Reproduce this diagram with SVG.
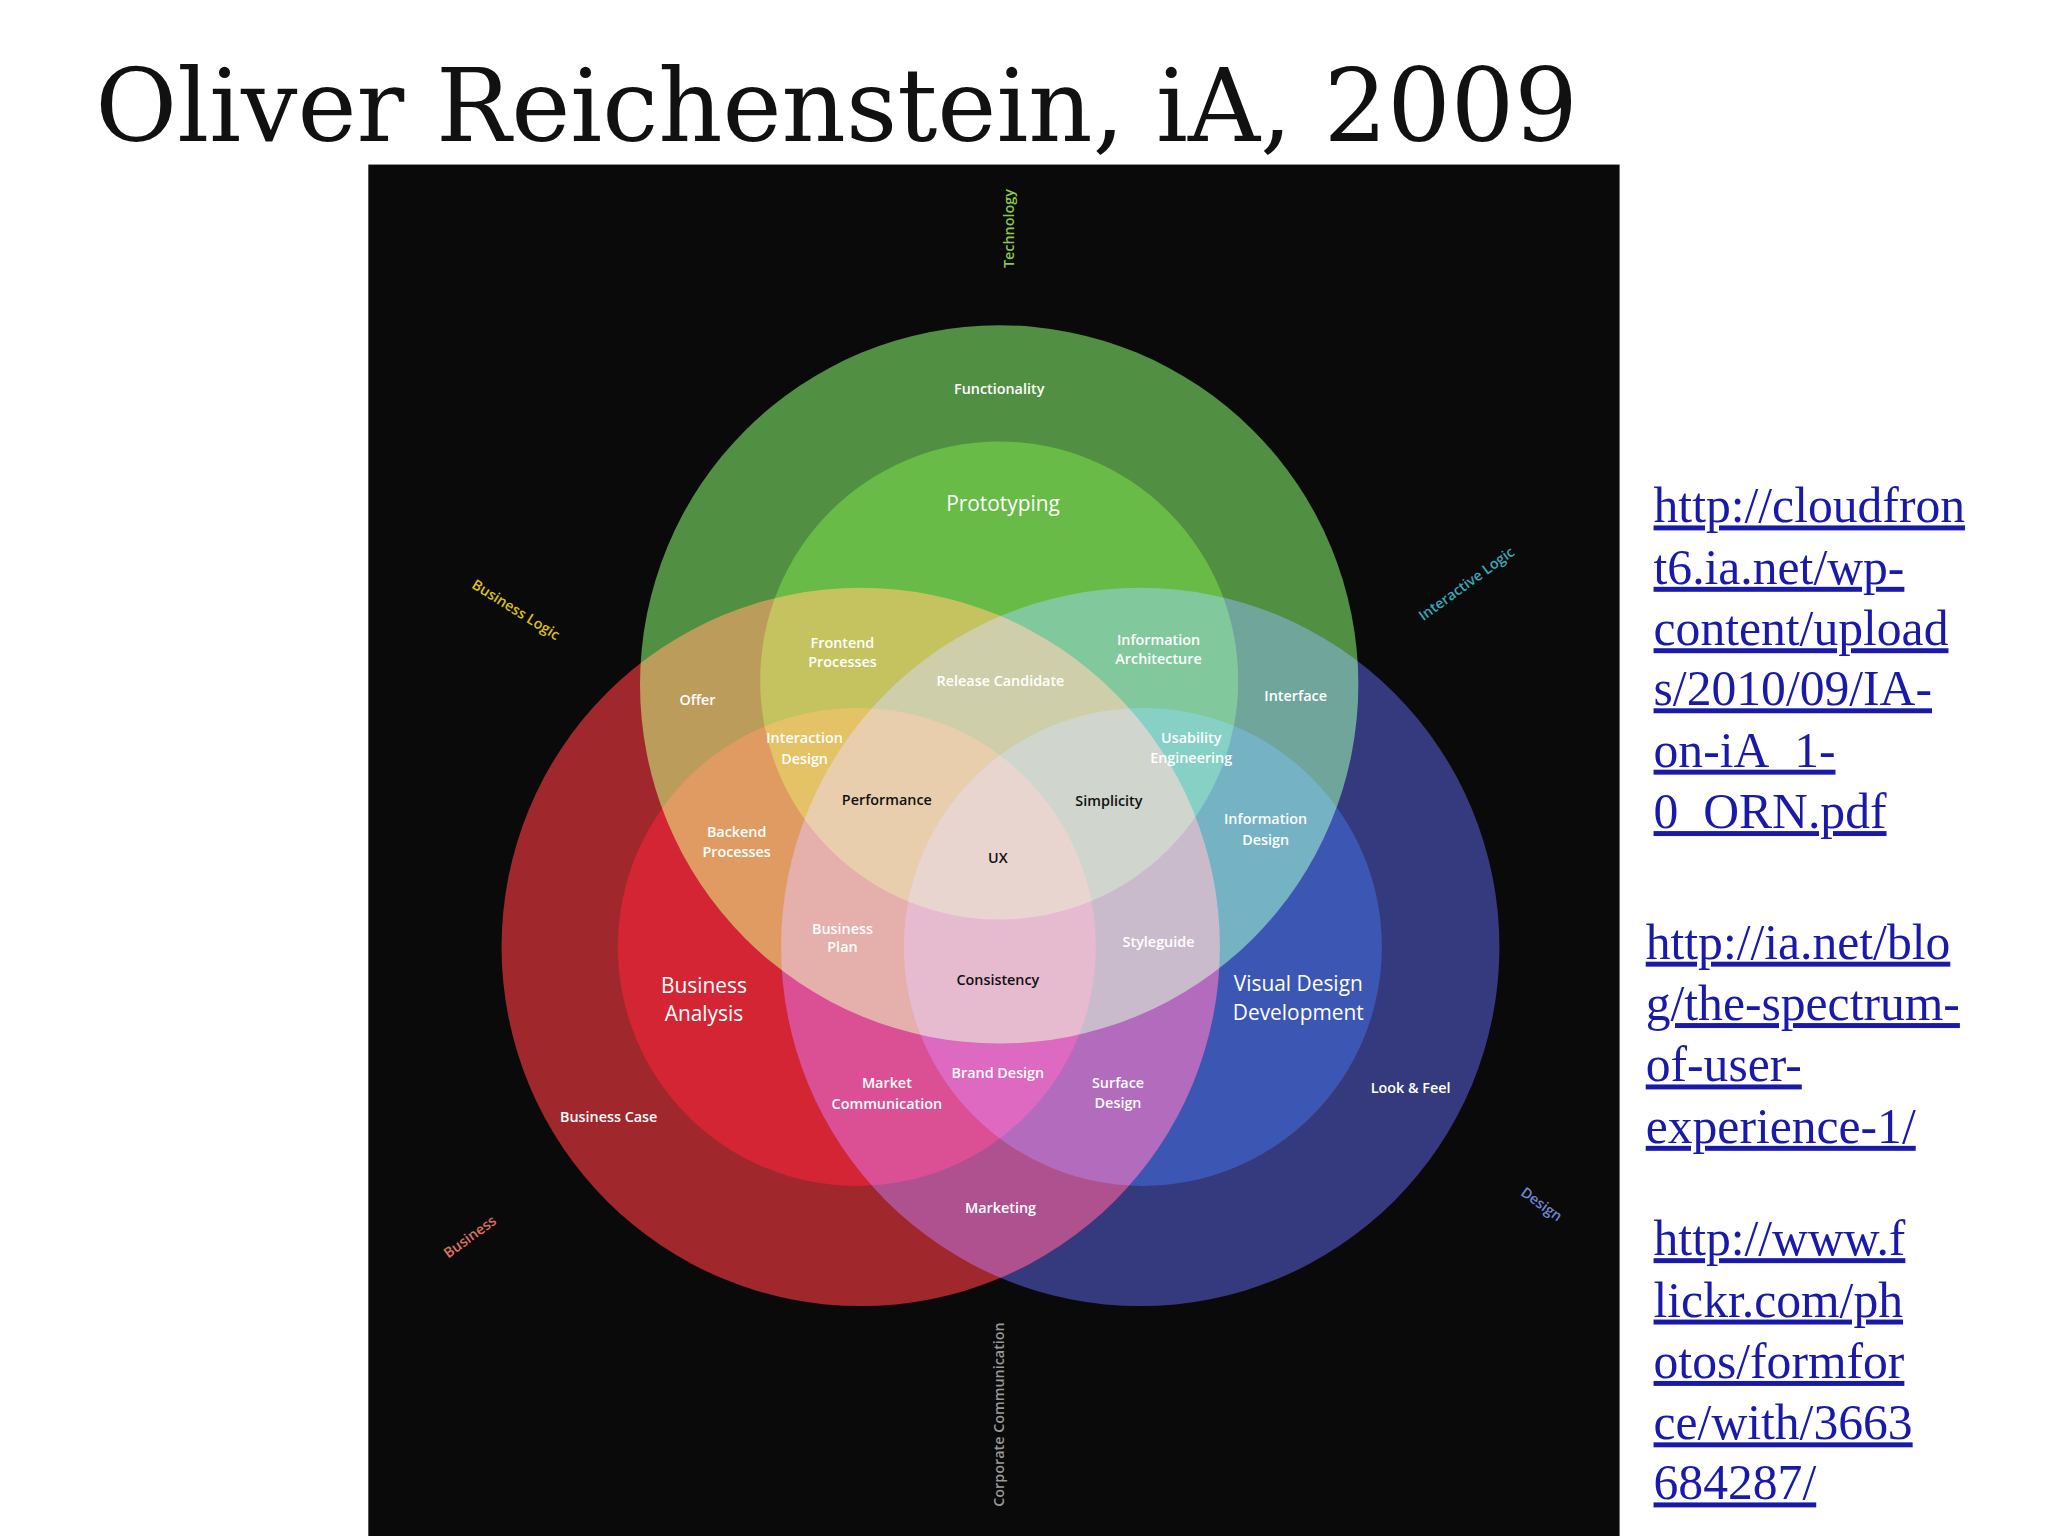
<svg xmlns="http://www.w3.org/2000/svg" width="2048" height="1536" viewBox="0 0 2048 1536">
<style>
.l{font-family:"Open Sans","Liberation Sans",sans-serif;font-size:11px;font-weight:600;fill:#fff;text-anchor:middle}
.d{fill:#111}
.b{font-size:16px;font-weight:400}
.lk{font-family:"Liberation Serif",serif;font-size:38px;fill:#1a1aaa;text-decoration:underline}
.ax{font-family:"Open Sans","Liberation Sans",sans-serif;font-size:11px;font-weight:600;text-anchor:middle}
.s{mix-blend-mode:screen}
</style>
<rect width="2048" height="1536" fill="#fff"/>
<g transform="scale(1.30612)">
<text x="73" y="108" font-family="DejaVu Serif,serif" font-size="78" textLength="1135" lengthAdjust="spacingAndGlyphs" fill="#111">Oliver Reichenstein, iA, 2009</text>
<g style="isolation:isolate">
<rect x="282" y="126" width="958" height="1050" fill="#0a0a0a"/>
<g id="technology" class="s"><circle cx="765" cy="524" r="275" fill="#4a8a3a"/><circle cx="765" cy="521" r="183" fill="#62b83e"/></g>
<g id="business" class="s"><circle cx="659" cy="725" r="275" fill="#9c1e22"/><circle cx="656" cy="725" r="183" fill="#d21c2c"/></g>
<g id="design" class="s"><circle cx="873" cy="725" r="275" fill="#2c3278"/><circle cx="875" cy="725" r="183" fill="#3350b0"/></g>
</g>
<g id="labels">
<text class="ax" fill="#8cc84a" transform="translate(776,175) rotate(-90)">Technology</text>
<text class="ax" fill="#d8c020" transform="translate(393,470) rotate(32)">Business Logic</text>
<text class="ax" fill="#3aa8b8" transform="translate(1125,450) rotate(-36)">Interactive Logic</text>
<text class="ax" fill="#e07060" transform="translate(362,950) rotate(-36)">Business</text>
<text class="ax" fill="#6f86d0" transform="translate(1178,925) rotate(36)">Design</text>
<text class="ax" fill="#999" transform="translate(769,1083) rotate(-90)">Corporate Communication</text>
<text class="l" x="765" y="302">Functionality</text>
<text class="l b" x="768" y="391">Prototyping</text>
<text class="l" x="645" y="496">Frontend</text><text class="l" x="645" y="511">Processes</text>
<text class="l" x="887" y="494">Information</text><text class="l" x="887" y="508">Architecture</text>
<text class="l" x="766" y="525">Release Candidate</text>
<text class="l" x="534" y="540">Offer</text>
<text class="l" x="992" y="537">Interface</text>
<text class="l" x="616" y="569">Interaction</text><text class="l" x="616" y="585">Design</text>
<text class="l" x="912" y="569">Usability</text><text class="l" x="912" y="584">Engineering</text>
<text class="l d" x="679" y="616">Performance</text>
<text class="l d" x="849" y="617">Simplicity</text>
<text class="l" x="564" y="641">Backend</text><text class="l" x="564" y="656">Processes</text>
<text class="l" x="969" y="631">Information</text><text class="l" x="969" y="647">Design</text>
<text class="l d" x="764" y="661">UX</text>
<text class="l" x="645" y="715">Business</text><text class="l" x="645" y="729">Plan</text>
<text class="l" x="887" y="725">Styleguide</text>
<text class="l b" x="539" y="760">Business</text><text class="l b" x="539" y="782">Analysis</text>
<text class="l d" x="764" y="754">Consistency</text>
<text class="l b" x="994" y="759">Visual Design</text><text class="l b" x="994" y="781">Development</text>
<text class="l" x="764" y="825">Brand Design</text>
<text class="l" x="679" y="833">Market</text><text class="l" x="679" y="849">Communication</text>
<text class="l" x="856" y="833">Surface</text><text class="l" x="856" y="848">Design</text>
<text class="l" x="1080" y="837">Look &amp; Feel</text>
<text class="l" x="466" y="859">Business Case</text>
<text class="l" x="766" y="929">Marketing</text>
</g>
<g id="links">
<text class="lk" x="1266" y="400">http://cloudfron</text>
<text class="lk" x="1266" y="447">t6.ia.net/wp-</text>
<text class="lk" x="1266" y="494">content/upload</text>
<text class="lk" x="1266" y="540">s/2010/09/IA-</text>
<text class="lk" x="1266" y="587">on-iA_1-</text>
<text class="lk" x="1266" y="634">0_ORN.pdf</text>
<text class="lk" x="1260" y="734">http://ia.net/blo</text>
<text class="lk" x="1260" y="781">g/the-spectrum-</text>
<text class="lk" x="1260" y="828">of-user-</text>
<text class="lk" x="1260" y="875">experience-1/</text>
<text class="lk" x="1266" y="961">http://www.f</text>
<text class="lk" x="1266" y="1008">lickr.com/ph</text>
<text class="lk" x="1266" y="1055">otos/formfor</text>
<text class="lk" x="1266" y="1102">ce/with/3663</text>
<text class="lk" x="1266" y="1148">684287/</text>
</g>
</g>
</svg>
